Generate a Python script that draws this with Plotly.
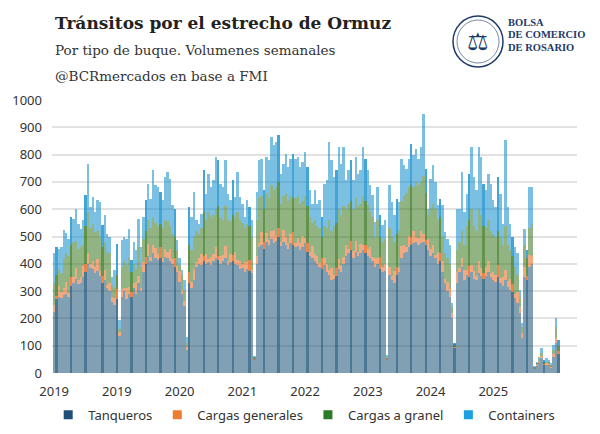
import plotly.graph_objects as go

TICK_LABELS = ["2019", "2019", "2020", "2021", "2022", "2023", "2024", "2025"]
TICK_POSITIONS = [0, 26, 52, 78, 104, 130, 156, 182]
SERIES = ["Tanqueros", "Cargas generales", "Cargas a granel", "Containers"]

TANQUEROS = [
    225, 270, 280, 275, 285, 290, 280, 320, 330, 345,
    325, 330, 350, 370, 400, 385, 380, 365, 375, 355,
    330, 340, 310, 300, 260, 250, 270, 135, 280, 300,
    270, 290, 280, 310, 290, 330, 300, 370, 400, 430,
    410, 440, 420, 415, 420, 405, 425, 420, 410, 400,
    390, 370, 335, 290, 245, 85, 330, 310, 340, 390,
    400, 395, 410, 400, 405, 395, 410, 420, 415, 400,
    410, 420, 395, 405, 410, 400, 395, 380, 385, 370,
    380, 375, 365, 50, 400, 460, 470, 455, 480, 470,
    490, 475, 485, 500, 465, 480, 470, 455, 475, 470,
    460, 465, 450, 460, 475, 445, 430, 420, 410, 400,
    390, 380, 395, 370, 360, 340, 345, 355, 380, 370,
    400, 430, 440, 450, 420, 445, 430, 440, 450, 440,
    430, 420, 410, 390, 400, 380, 370, 375, 50, 360,
    340, 330, 360, 370, 420, 440, 445, 460, 470, 475,
    480, 470, 475, 480, 470, 450, 430, 440, 420, 400,
    410, 370, 330, 300, 280, 200, 90, 330, 370, 390,
    340, 360, 350, 370, 345, 340, 365, 355, 345, 355,
    370, 350, 340, 335, 350, 330, 320, 340, 315, 305,
    295, 275, 255, 220, 130, 350, 340, 390, 400, 15,
    25, 35, 55, 30, 30, 28, 20, 60, 110, 70,
]

CARGAS_GENERALES = [
    25, 12, 38, 22, 28, 45, 14, 30, 22, 40,
    16, 20, 42, 28, 40, 15, 32, 22, 44, 17,
    24, 36, 12, 28, 20, 25, 38, 15, 26, 12,
    40, 24, 18, 20, 42, 25, 12, 36, 26, 44,
    14, 30, 38, 22, 42, 15, 30, 24, 45, 16,
    30, 22, 38, 14, 20, 10, 40, 25, 42, 16,
    22, 40, 18, 35, 14, 30, 26, 42, 15, 30,
    22, 44, 16, 30, 24, 42, 18, 30, 14, 35,
    26, 40, 12, 2, 30, 18, 45, 25, 32, 16,
    30, 48, 18, 30, 14, 44, 28, 20, 34, 46,
    18, 30, 25, 42, 18, 30, 14, 44, 26, 30,
    12, 42, 26, 30, 18, 44, 15, 30, 38, 22,
    26, 40, 14, 34, 28, 40, 15, 32, 18, 30,
    24, 42, 16, 30, 22, 44, 18, 25, 4, 30,
    16, 42, 28, 14, 44, 30, 16, 42, 28, 46,
    20, 24, 44, 30, 18, 42, 26, 30, 14, 44,
    28, 40, 15, 32, 26, 20, 8, 40, 16, 32,
    38, 18, 42, 26, 30, 14, 44, 28, 20, 35,
    42, 16, 30, 24, 44, 18, 30, 36, 22, 38,
    30, 14, 40, 22, 15, 40, 16, 44, 28, 3,
    5, 7, 8, 5, 7, 6, 5, 10, 20, 12,
]

CARGAS_GRANEL = [
    80, 78, 62, 68, 107, 105, 136, 120, 128, 100,
    114, 110, 78, 142, 150, 130, 133, 128, 101, 128,
    106, 104, 123, 112, 40, 35, 52, 10, 84, 98,
    85, 106, 72, 70, 48, 105, 78, 84, 94, 86,
    106, 100, 92, 103, 83, 110, 105, 111, 85, 94,
    80, 58, 22, 56, 35, 15, 100, 115, 118, 114,
    88, 95, 162, 125, 171, 145, 144, 138, 180, 140,
    128, 146, 149, 120, 146, 128, 177, 150, 151, 125,
    139, 125, 123, 3, 130, 162, 135, 120, 148, 154,
    170, 147, 177, 170, 141, 126, 162, 155, 141, 124,
    162, 155, 145, 128, 157, 135, 126, 86, 124, 110,
    128, 78, 119, 130, 182, 136, 180, 165, 182, 188,
    184, 130, 166, 146, 152, 155, 165, 148, 182, 160,
    162, 128, 144, 80, 138, 76, 92, 90, 6, 140,
    144, 108, 122, 136, 166, 180, 199, 178, 192, 159,
    200, 196, 181, 210, 172, 88, 144, 150, 166, 116,
    132, 90, 95, 88, 94, 20, 7, 80, 94, 98,
    92, 162, 168, 204, 165, 166, 191, 197, 175, 140,
    148, 154, 140, 141, 126, 152, 120, 164, 133, 107,
    105, 101, 65, 38, 25, 80, 64, 96, 117, 2,
    5, 8, 12, 5, 8, 6, 5, 15, 40, 18,
]

CONTAINERS = [
    110, 100, 76, 97, 105, 72, 62, 101, 85, 117,
    92, 69, 90, 111, 177, 78, 100, 75, 113, 126,
    81, 98, 66, 58, 32, 67, 114, 34, 96, 88,
    97, 109, 43, 80, 70, 105, 72, 81, 113, 134,
    109, 172, 137, 141, 118, 102, 158, 181, 172, 104,
    102, 36, 25, 16, 40, 23, 138, 121, 163, 39,
    37, 54, 152, 97, 140, 111, 126, 191, 169, 123,
    121, 169, 97, 77, 126, 75, 146, 85, 70, 41,
    87, 68, 59, 5, 103, 139, 135, 69, 131, 139,
    174, 164, 166, 170, 110, 117, 143, 124, 135, 163,
    145, 141, 134, 142, 159, 144, 99, 70, 109, 80,
    102, 71, 153, 176, 286, 259, 178, 192, 227, 187,
    217, 106, 122, 149, 106, 151, 120, 122, 178, 155,
    126, 97, 81, 53, 121, 78, 61, 69, 6, 157,
    126, 98, 129, 106, 155, 111, 88, 105, 150, 117,
    122, 95, 128, 230, 88, 22, 112, 141, 100, 54,
    69, 114, 77, 72, 68, 16, 5, 150, 122, 216,
    120, 117, 170, 228, 178, 149, 228, 211, 154, 139,
    170, 174, 123, 108, 198, 157, 77, 312, 138, 97,
    69, 72, 78, 23, 12, 59, 30, 151, 136, 3,
    6, 10, 15, 7, 9, 7, 5, 17, 30, 21,
]

BAR_COLORS = ["#1B5276", "#E3641B", "#37761B", "#0E8ACB"]
LEGEND_COLORS = ["#1F4E79", "#ED7D31", "#2A7A2A", "#1BA1E2"]
NAVY = "#1F3A68"

n = len(TANQUEROS)
x = list(range(n))

# periodic darker columns (overlap artefact visible in the original)
dark_cols = set(round(1.28 + 6.1 * k) for k in range(40))
opac = [0.78 if i in dark_cols else 0.55 for i in x]

fig = go.Figure()
for name, vals, col in zip(SERIES, [TANQUEROS, CARGAS_GENERALES, CARGAS_GRANEL, CONTAINERS], BAR_COLORS):
    fig.add_trace(go.Bar(
        x=x, y=vals, name=name, showlegend=False,
        marker=dict(color=col, opacity=opac, line=dict(width=0)),
        hoverinfo="skip",
    ))
for name, col in zip(SERIES, LEGEND_COLORS):
    fig.add_trace(go.Scatter(
        x=[None], y=[None], mode="markers", name=name,
        marker=dict(symbol="square", size=9, color=col),
    ))

tickfont = dict(family="Noto Sans", size=13, color="#333333")

fig.update_layout(
    width=600, height=434,
    margin=dict(l=52, r=23, t=100, b=61),
    barmode="stack", bargap=0,
    plot_bgcolor="white", paper_bgcolor="white",
    xaxis=dict(
        range=[-0.9, 216.7], tickvals=TICK_POSITIONS, ticktext=TICK_LABELS,
        showgrid=False, zeroline=False, ticks="", tickfont=tickfont,
        ticklabelstandoff=9, automargin=False,
    ),
    yaxis=dict(
        range=[0, 1000], dtick=100, gridcolor="#e2e2e2", gridwidth=1.5,
        zeroline=False, ticks="", tickfont=tickfont, ticklabelstandoff=9,
        automargin=False,
    ),
    legend=dict(
        orientation="h", xref="container", yref="container",
        x=0.507, xanchor="center", y=0.044, yanchor="middle",
        font=dict(family="Noto Sans", size=13, color="#333333"),
        itemwidth=30, tracegroupgap=0, traceorder="normal",
    ),
    showlegend=True,
)


# paper coords relative to plot area (x 52..577, y 373..100 in pixels)
def px(xp):
    return (xp - 52) / 525


def py(yp):
    return (373 - yp) / 273


anns = [
    dict(text="<b>Tránsitos por el estrecho de Ormuz</b>", x=px(53), y=py(23),
         font=dict(family="DejaVu Serif", size=17, color="#222222")),
    dict(text="Por tipo de buque. Volumenes semanales", x=px(53), y=py(50),
         font=dict(family="DejaVu Serif", size=13.5, color="#333333")),
    dict(text="@BCRmercados en base a FMI", x=px(53), y=py(76),
         font=dict(family="DejaVu Serif", size=13.5, color="#333333")),
    dict(text="<b>BOLSA</b>", x=px(506), y=py(23),
         font=dict(family="Liberation Serif", size=10.5, color=NAVY)),
    dict(text="<b>DE COMERCIO</b>", x=px(506), y=py(35),
         font=dict(family="Liberation Serif", size=10.5, color=NAVY)),
    dict(text="<b>DE ROSARIO</b>", x=px(506), y=py(47),
         font=dict(family="Liberation Serif", size=10.5, color=NAVY)),
]
for a in anns:
    fig.add_annotation(xref="paper", yref="paper", xanchor="left", yanchor="middle",
                       showarrow=False, **a)
fig.add_annotation(xref="paper", yref="paper", x=px(478), y=py(42),
                   xanchor="center", yanchor="middle", showarrow=False, text="⚖",
                   font=dict(family="DejaVu Sans", size=24, color=NAVY))

fig.add_shape(type="circle", xref="paper", yref="paper",
              x0=px(453), x1=px(503), y0=py(67), y1=py(16),
              line=dict(color=NAVY, width=1.5))
fig.add_shape(type="circle", xref="paper", yref="paper",
              x0=px(457), x1=px(499), y0=py(63), y1=py(20),
              line=dict(color=NAVY, width=0.6))

fig.write_html("out.html", config={"displayModeBar": False})

# remove the browser's default page margin so the figure sits at the window origin
with open("out.html", "r", encoding="utf-8") as fh:
    html = fh.read()
html = html.replace("<head>", "<head><style>html,body{margin:0;padding:0;overflow:hidden;}</style>", 1)
with open("out.html", "w", encoding="utf-8") as fh:
    fh.write(html)
